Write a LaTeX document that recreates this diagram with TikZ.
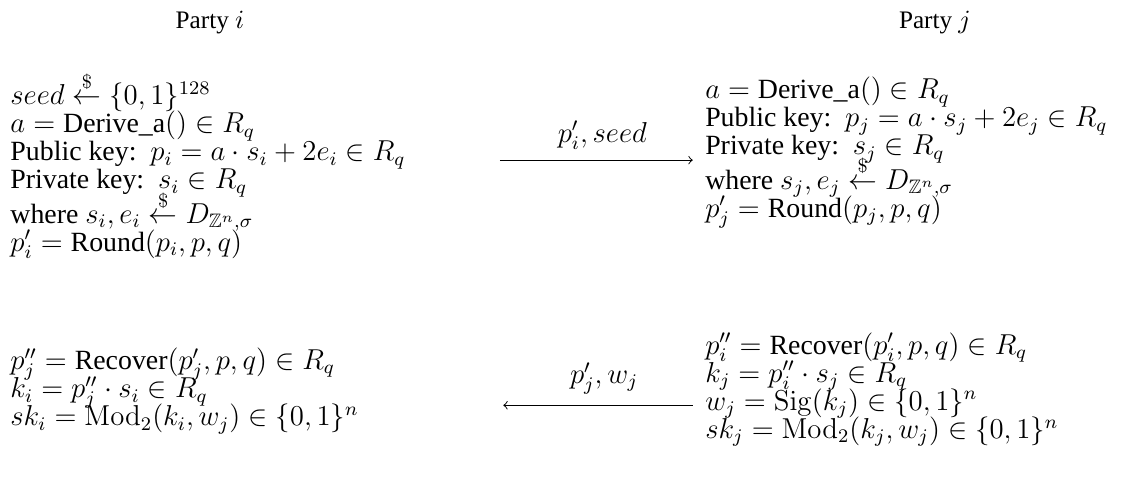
\documentclass[tikz,border=0pt]{standalone}
\usepackage{amsmath,amssymb}
\usepackage[no-math]{fontspec}
\setmainfont{Liberation Serif}
\usetikzlibrary{positioning}

\newcommand{\sample}{\overset{\$}{\leftarrow}}
\setlength{\lineskiplimit}{-3pt}
\setlength{\lineskip}{-3pt}

\begin{document}
\begin{tikzpicture}[
        every node/.style={font=\fontsize{11.6}{11.7}\selectfont},
        party/.style={inner sep=0pt, font=\fontsize{10.5}{12}\selectfont},
        steps/.style={align=left, inner sep=0pt}, % blocks of computations
        msg/.style={->, thin}
    ]
    \useasboundingbox (0,0) rectangle (16.62,7.015);

    % parties
    \node[party] (pi) at (3.075,6.69) {Party $i$};
    \node[party] (pj) at (13.69,6.69) {Party $j$};

    % key generation
    \node[steps, anchor=west] (keyi) at (0.146,4.60) {$seed \sample \{0,1\}^{128}$\\
        $a = \text{Derive\_a}() \in R_q$\\
        Public key:\ \ $p_i = a\cdot s_i + 2e_i \in R_q$\\
        Private key:\ \ $s_i \in R_q$\\
        where $s_i, e_i \sample D_{\mathbb{Z}^n,\sigma}$\\
        $p_i' = \text{Round}(p_i,p,q)$};
    \node[steps, anchor=west] (keyj) at (10.32,4.78) {$a = \text{Derive\_a}() \in R_q$\\
        Public key:\ \ $p_j = a\cdot s_j + 2e_j \in R_q$\\
        Private key:\ \ $s_j \in R_q$\\
        where $s_j, e_j \sample D_{\mathbb{Z}^n,\sigma}$\\
        $p_j' = \text{Round}(p_j,p,q)$};

    % shared key
    \node[steps, anchor=west] (sharei) at (0.146,1.29) {$p_j'' = \text{Recover}(p_j',p,q) \in R_q$\\
        $k_i = p_j''\cdot s_i \in R_q$\\
        $sk_i = \mathrm{Mod}_2(k_i,w_j) \in \{0,1\}^n$};
    \node[steps, anchor=west] (sharej) at (10.32,1.31) {$p_i'' = \text{Recover}(p_i',p,q) \in R_q$\\
        $k_j = p_i''\cdot s_j \in R_q$\\
        $w_j = \mathrm{Sig}(k_j) \in \{0,1\}^n$\\
        $sk_j = \mathrm{Mod}_2(k_j,w_j) \in \{0,1\}^n$};

    % messages
    \coordinate (sendi) at (7.32,4.67);
    \coordinate (recvi) at (7.37,1.08);
    \draw[msg, shorten >=5pt] (sendi) -- (sendi -| keyj.west)
        node[midway, above=1pt] {$p_i', seed$};
    \draw[msg, shorten <=5pt] (recvi -| sharej.west) -- (recvi)
        node[midway, above=1pt] {$p_j', w_j$};
\end{tikzpicture}
\end{document}
